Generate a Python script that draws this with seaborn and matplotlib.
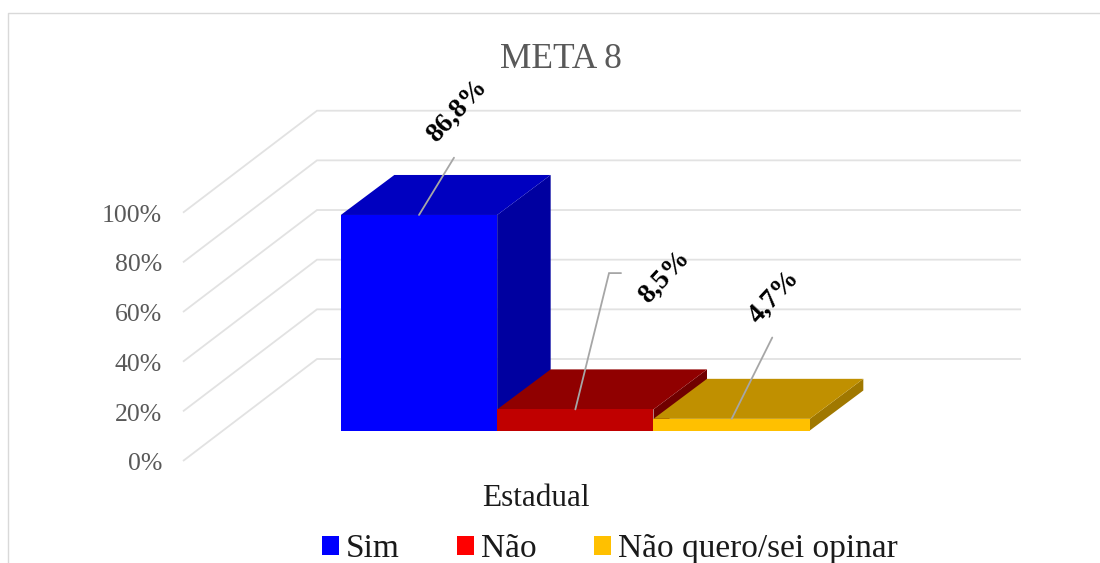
import matplotlib
matplotlib.use("Agg")
import matplotlib.pyplot as plt
from matplotlib.lines import Line2D
from matplotlib.patches import Patch, Polygon
import pandas as pd
import seaborn as sns

# ---- data ----
categories = ["Sim", "Não", "Não quero/sei opinar"]
values = [86.8, 8.5, 4.7]
value_labels = ["86,8%", "8,5%", "4,7%"]
y_ticks = [0, 20, 40, 60, 80, 100]
y_tick_labels = ["0%", "20%", "40%", "60%", "80%", "100%"]
x_group = "Estadual"
title = "META 8"

# ---- styles ----
front_colors = ["#0000FF", "#C00000", "#FFC000"]
top_colors = ["#0000C0", "#900000", "#C09000"]
side_colors = ["#0000A0", "#700000", "#A07800"]
legend_colors = ["#0000FF", "#FF0000", "#FFC000"]
GRID = "#E2E2E2"
BORDER = "#D9D9D9"
TXT = "#595959"
FONT = "Liberation Serif"

W, H = 1100, 563
PX_X = 156.33      # pixels per category
PX_Y = 2.483       # pixels per percent
X0 = 419.0         # pixel of category 0
Y0 = 430.5         # pixel of value 0
DX = 53.5 / PX_X   # bar depth offset, data units
DY = 40.0 / PX_Y

sns.set_theme(style="white")
plt.rcParams["font.family"] = [FONT, "DejaVu Serif"]

fig = plt.figure(figsize=(W / 100, H / 100), dpi=100, facecolor="white")
ax = fig.add_axes([0, 0, 1, 1])

df = pd.DataFrame({"Resposta": categories, "Percentual": values})
sns.barplot(data=df, x="Resposta", y="Percentual", hue="Resposta",
            palette=front_colors, width=1.0, dodge=False, legend=False,
            saturation=1, linewidth=0, ax=ax)
for c in ax.patches:
    c.set_zorder(5)

ax.set_xlim((0 - X0) / PX_X, (W - X0) / PX_X)
ax.set_ylim(-(H - Y0) / PX_Y, Y0 / PX_Y)
ax.set_xlabel("")
ax.set_ylabel("")
ax.set_xticks([])
ax.set_yticks([])
for s in ax.spines.values():
    s.set_visible(False)
ax.patch.set_alpha(0)


def xd(px):
    return (px - X0) / PX_X


def yd(px):
    return (Y0 - px) / PX_Y


# ---- chart frame, cropped by the picture edge ----
ax.plot([xd(8), xd(8), xd(W)], [yd(H), yd(12.5), yd(12.5)],
        color=BORDER, lw=1.0, zorder=0, solid_capstyle="butt")

# ---- walls: gridlines run from the front edge to the back wall, then across ----
FRONT_SHIFT = -30.5 / PX_Y
BACK_SHIFT = (Y0 - 359.0) / PX_Y
for t in y_ticks:
    ax.plot([xd(183), xd(317), xd(1021)],
            [t + FRONT_SHIFT, t + BACK_SHIFT, t + BACK_SHIFT],
            color=GRID, lw=1.3, zorder=1, solid_capstyle="butt", solid_joinstyle="miter")

# ---- bar depth faces, left to right so each one hides the previous side ----
for i, v in enumerate(values):
    l, r = i - 0.5, i + 0.5
    ax.add_patch(Polygon([(r, 0), (r + DX, DY), (r + DX, v + DY), (r, v)],
                         closed=True, fc=side_colors[i], ec="none", zorder=2 + i * 0.1))
    ax.add_patch(Polygon([(l, v), (l + DX, v + DY), (r + DX, v + DY), (r, v)],
                         closed=True, fc=top_colors[i], ec="none", zorder=2.05 + i * 0.1))

# ---- leader lines and rotated value labels, offset in pixels from each bar top ----
leaders = [[(0, 0), (35, 57.3)],
           [(0, 0), (33.7, 136.3), (45.7, 136.3)],
           [(0, 0), (40.6, 81.3)]]
label_offsets = [(38, 104), (89, 133), (42.5, 122)]
for i, v in enumerate(values):
    xs = [i + p[0] / PX_X for p in leaders[i]]
    ys = [v + p[1] / PX_Y for p in leaders[i]]
    ax.add_line(Line2D(xs, ys, color="#A6A6A6", lw=1.3, zorder=6, solid_joinstyle="miter"))
    ax.text(i + label_offsets[i][0] / PX_X, v + label_offsets[i][1] / PX_Y, value_labels[i],
            rotation=47, ha="center", va="center", rotation_mode="anchor",
            fontsize=20, color="black", fontweight="bold", zorder=7)

# ---- value axis, along the front edge of the left wall ----
ax2 = fig.add_axes([183 / W, (H - 462) / H, 0.01, 249 / H])
ax2.patch.set_alpha(0)
ax2.set_ylim(0, 100)
ax2.set_xticks([])
ax2.set_yticks(y_ticks)
ax2.set_yticklabels(y_tick_labels, fontsize=18.5, color=TXT)
ax2.tick_params(axis="y", length=0, pad=15)
for s in ax2.spines.values():
    s.set_visible(False)

# ---- texts ----
ax.text(xd(561), yd(59), title, ha="center", va="center", fontsize=25.5, color=TXT)
ax.text(xd(535.5), yd(499), x_group, ha="center", va="center", fontsize=22.5, color="#1A1A1A")

handles = [Patch(fc=c, ec="none", label=n) for c, n in zip(legend_colors, categories)]
fig.legend(handles=handles, ncol=3, frameon=False, loc="lower left",
           bbox_to_anchor=(322 / W, -1 / H), fontsize=24, labelcolor="#1A1A1A",
           handlelength=0.5, handleheight=0.5, handletextpad=0.22, columnspacing=1.72,
           borderpad=0, borderaxespad=0)

fig.savefig("out.png", dpi=100)
